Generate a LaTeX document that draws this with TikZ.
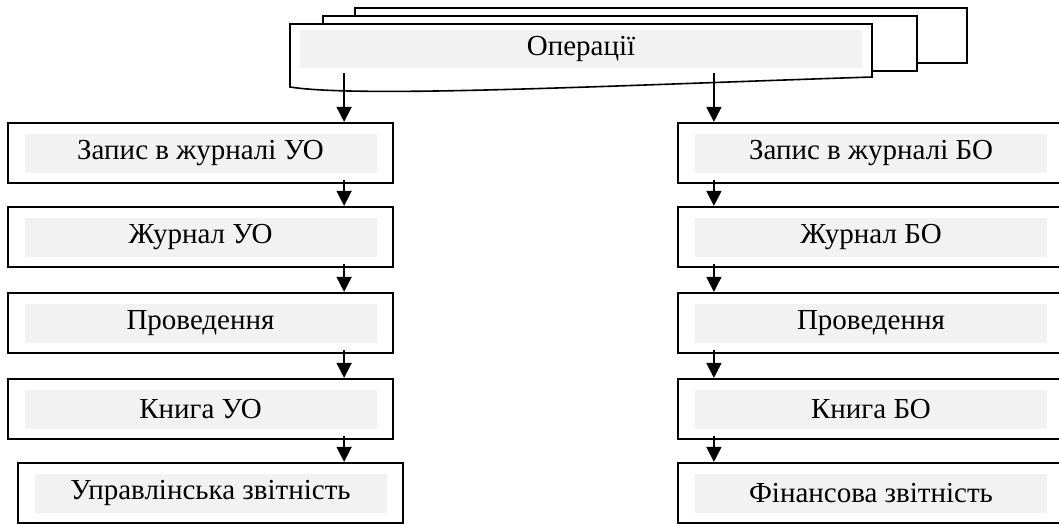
\documentclass[tikz,border=0pt]{standalone}
\usepackage{fontspec}
\setmainfont{Liberation Serif}
\usetikzlibrary{arrows.meta}
\tikzstyle{box}=[draw,line width=2.2pt,minimum width=385pt,minimum height=60pt,inner sep=0pt]
\tikzstyle{lbl}=[fill=black!5,minimum width=352pt,minimum height=39pt,inner sep=0pt,font=\fontsize{29}{34}\selectfont]
\tikzstyle{arr}=[line width=1.6pt,-{Triangle[length=15pt,width=15pt]}]

\begin{document}
\begin{tikzpicture}[x=1pt,y=-1pt]
    \useasboundingbox (0,0) rectangle (1059,524);
    % stack of sheets
    \draw[line width=1.6pt,fill=white] (355,8) rectangle (967,63);
    \draw[line width=1.6pt,fill=white] (323,16) rectangle (917,71);
    \draw[line width=1.6pt,fill=white] (290,24) -- (872,24) -- (872,77)
        .. controls (600,86) and (360,98) .. (290,87) -- cycle;
    \node[lbl,minimum width=562pt,minimum height=38pt] (Op) at (581,49) {Операції};
    % left column
    \node[box] (L1) at (200.5,153) {};
    \node[box] (L2) at (200.5,237) {};
    \node[box] (L3) at (200.5,323) {};
    \node[box] (L4) at (200.5,409) {};
    \node[box] (L5) at (210.5,493) {};
    \node[lbl] (L1t) at (L1) {Запис в журналі УО};
    \node[lbl] (L2t) at (L2) {Журнал УО};
    \node[lbl] (L3t) at (L3) {Проведення};
    \node[lbl] (L4t) at (L4) {Книга УО};
    \node[lbl] (L5t) at (L5) {Управлінська звітність};
    % right column
    \node[box,minimum width=390pt] (R1) at (873,153) {};
    \node[box,minimum width=390pt] (R2) at (873,237) {};
    \node[box,minimum width=390pt] (R3) at (873,323) {};
    \node[box,minimum width=390pt] (R4) at (873,409) {};
    \node[box,minimum width=390pt] (R5) at (873,493) {};
    \node[lbl] (R1t) at (871,153) {Запис в журналі БО};
    \node[lbl] (R2t) at (871,237) {Журнал БО};
    \node[lbl] (R3t) at (871,323) {Проведення};
    \node[lbl] (R4t) at (871,409) {Книга БО};
    \node[lbl] (R5t) at (871,493) {Фінансова звітність};
    % arrows
    \draw[arr,shorten <=5pt] ([xshift=-50pt]L1.north east |- Op.south) -- ([xshift=-50pt]L1.north east);
    \draw[arr,shorten <=5pt] ([xshift=37pt]R1.north west |- Op.south) -- ([xshift=37pt]R1.north west);
    \draw[arr,shorten <=-4pt] ([xshift=-50pt]L1.south east) -- ([xshift=-50pt]L2.north east);
    \draw[arr,shorten <=-4pt] ([xshift=-50pt]L2.south east) -- ([xshift=-50pt]L3.north east);
    \draw[arr,shorten <=-4pt] ([xshift=-50pt]L3.south east) -- ([xshift=-50pt]L4.north east);
    \draw[arr,shorten <=-4pt] ([xshift=-50pt]L4.south east) -- ([xshift=-50pt]L4.south east |- L5.north);
    \draw[arr,shorten <=-4pt] ([xshift=37pt]R1.south west) -- ([xshift=37pt]R2.north west);
    \draw[arr,shorten <=-4pt] ([xshift=37pt]R2.south west) -- ([xshift=37pt]R3.north west);
    \draw[arr,shorten <=-4pt] ([xshift=37pt]R3.south west) -- ([xshift=37pt]R4.north west);
    \draw[arr,shorten <=-4pt] ([xshift=37pt]R4.south west) -- ([xshift=37pt]R5.north west);
\end{tikzpicture}
\end{document}
